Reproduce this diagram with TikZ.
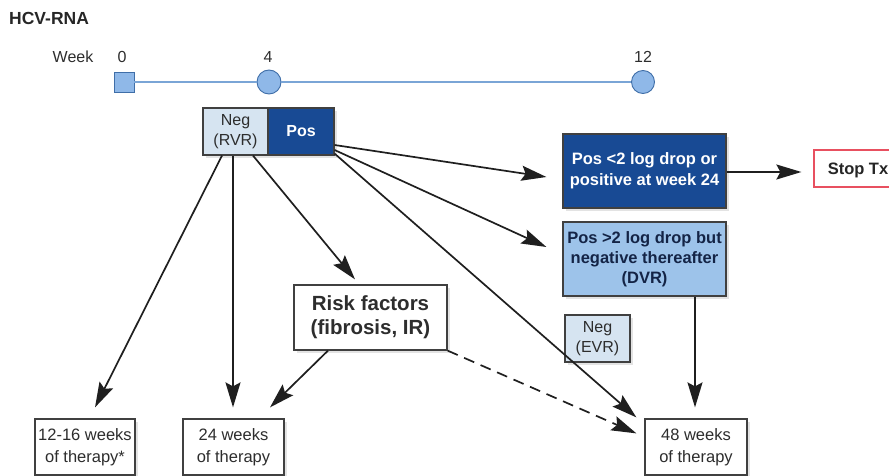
\documentclass[tikz,border=0pt]{standalone}
\usepackage{fontspec}
\setmainfont{Liberation Sans}
\usetikzlibrary{arrows.meta,calc,shadows}
\definecolor{dblue}{RGB}{24,74,148}
\definecolor{lblue}{RGB}{157,195,234}
\definecolor{pale}{RGB}{214,228,241}
\definecolor{mark}{RGB}{143,184,232}
\definecolor{markline}{RGB}{63,110,168}
\definecolor{tline}{RGB}{122,165,214}
\definecolor{bgray}{RGB}{64,64,64}
\definecolor{tgray}{RGB}{45,45,45}
\definecolor{navy}{RGB}{20,36,70}
\definecolor{stopred}{RGB}{232,80,96}
\begin{document}
\begin{tikzpicture}[x=1pt,y=-1pt,
  shad/.style={drop shadow={opacity=0.22,shadow xshift=3pt,shadow yshift=-3pt}},
  boxbase/.style={draw=bgray,line width=1.2pt,inner sep=0pt,align=center,anchor=center},
  wbox/.style={boxbase,fill=white,shad,text=tgray,font=\fontsize{16.5}{22}\selectfont},
  negbox/.style={boxbase,fill=pale,shad,text=tgray,font=\fontsize{16}{20}\selectfont},
  darkbox/.style={boxbase,fill=dblue,shad,text=white,font=\bfseries\fontsize{16.5}{21}\selectfont},
  lightbox/.style={boxbase,fill=lblue,shad,text=navy,font=\bfseries\fontsize{16.5}{20}\selectfont},
  lbl/.style={text=tgray,font=\fontsize{16}{18}\selectfont,inner sep=0pt},
  arr/.style={line width=1.7pt,draw=black!88,-{Stealth[length=25pt,width=15pt,inset=4pt]}},
  mk/.style={draw=markline,fill=mark,line width=0.9pt}]
\useasboundingbox (0,0) rectangle (889,476);
\clip (0,0) rectangle (889,476);

% title and timeline
\node[anchor=west,inner sep=0pt,font=\bfseries\fontsize{17.5}{20}\selectfont,text=black!85] (title) at (9,18) {HCV-RNA};
\node[lbl] (week) at (73,57) {Week};
\node[lbl] (w0) at (122,57) {0};
\node[lbl] (w4) at (268,57) {4};
\node[lbl] (w12) at (643,57) {12};
\node[mk,rectangle,minimum size=20pt,inner sep=0pt] (m0) at (124,82) {};
\node[mk,circle,minimum size=24pt,inner sep=0pt] (m4) at (269,82) {};
\node[mk,circle,minimum size=23pt,inner sep=0pt] (m12) at (643,82) {};
\draw[tline,line width=1.4pt] (m0) -- (m4);
\draw[tline,line width=1.4pt] (m4) -- (m12);

% boxes
\node[negbox,minimum width=65pt,minimum height=47pt] (neg) at (235.5,131.5) {Neg\\(RVR)};
\node[darkbox,minimum width=66pt,minimum height=47pt,font=\bfseries\fontsize{16}{20}\selectfont] (pos) at (301,131.5) {Pos};
\node[darkbox,minimum width=163pt,minimum height=74pt] (posA) at (644.5,171) {Pos <2 log drop or\\positive at week 24};
\node[lightbox,minimum width=163pt,minimum height=74pt] (posB) at (644.5,259) {Pos >2 log drop but\\negative thereafter\\(DVR)};
\node[boxbase,draw=stopred,fill=white,minimum width=92pt,minimum height=37pt,text=black!85,font=\bfseries\fontsize{16.5}{20}\selectfont,text depth=0pt] (stop) at (860,168.5) {\hspace*{-4pt}Stop Tx};
\node[negbox,minimum width=65pt,minimum height=47pt] (evr) at (597.5,338.5) {Neg\\(EVR)};
\node[wbox,minimum width=153pt,minimum height=65pt,font=\bfseries\fontsize{20.5}{24}\selectfont] (risk) at (370.5,317.5) {Risk factors\\(fibrosis, IR)};
\node[wbox,minimum width=100pt,minimum height=56pt] (b1) at (85,447) {12-16 weeks\\of therapy*};
\node[wbox,minimum width=101pt,minimum height=56pt] (b2) at (233.5,447) {24 weeks\\of therapy};
\node[wbox,minimum width=102pt,minimum height=56pt] (b3) at (696,447) {48 weeks\\of therapy};

% connectors
\draw[arr] ($(neg.south)+(-13.5,0)$) -- ($(b1.north)+(10,-11)$);
\draw[arr] ($(neg.south)+(-2.5,0)$) -- ($(b2.north)+(-0.5,-11)$);
\draw[arr] ($(neg.south)+(17.5,0)$) -- ($(risk.north)+(-15.5,-5)$);
\draw[arr] ($(risk.south)+(-42.5,0)$) -- ($(b2.north)+(36.5,-11)$);
\draw[arr,dash pattern=on 11pt off 7pt] (risk.south east) -- ($(b3.north west)+(-8,15)$);
\draw[arr] ($(pos.south east)+(0,-2)$) -- ($(b3.north west)+(-8,-1)$);
\draw[arr] ($(pos.east)+(0,13.5)$) -- ($(posA.west)+(-16,6)$);
\draw[arr] ($(pos.east)+(0,18.5)$) -- ($(posB.west)+(-16,-12)$);
\draw[arr] ($(posA.east)+(0,1)$) -- ($(stop.west)+(-12,3.5)$);
\draw[arr] ($(posB.south)+(50.5,0)$) -- ($(b3.north)+(-1,-11)$);
\end{tikzpicture}
\end{document}
